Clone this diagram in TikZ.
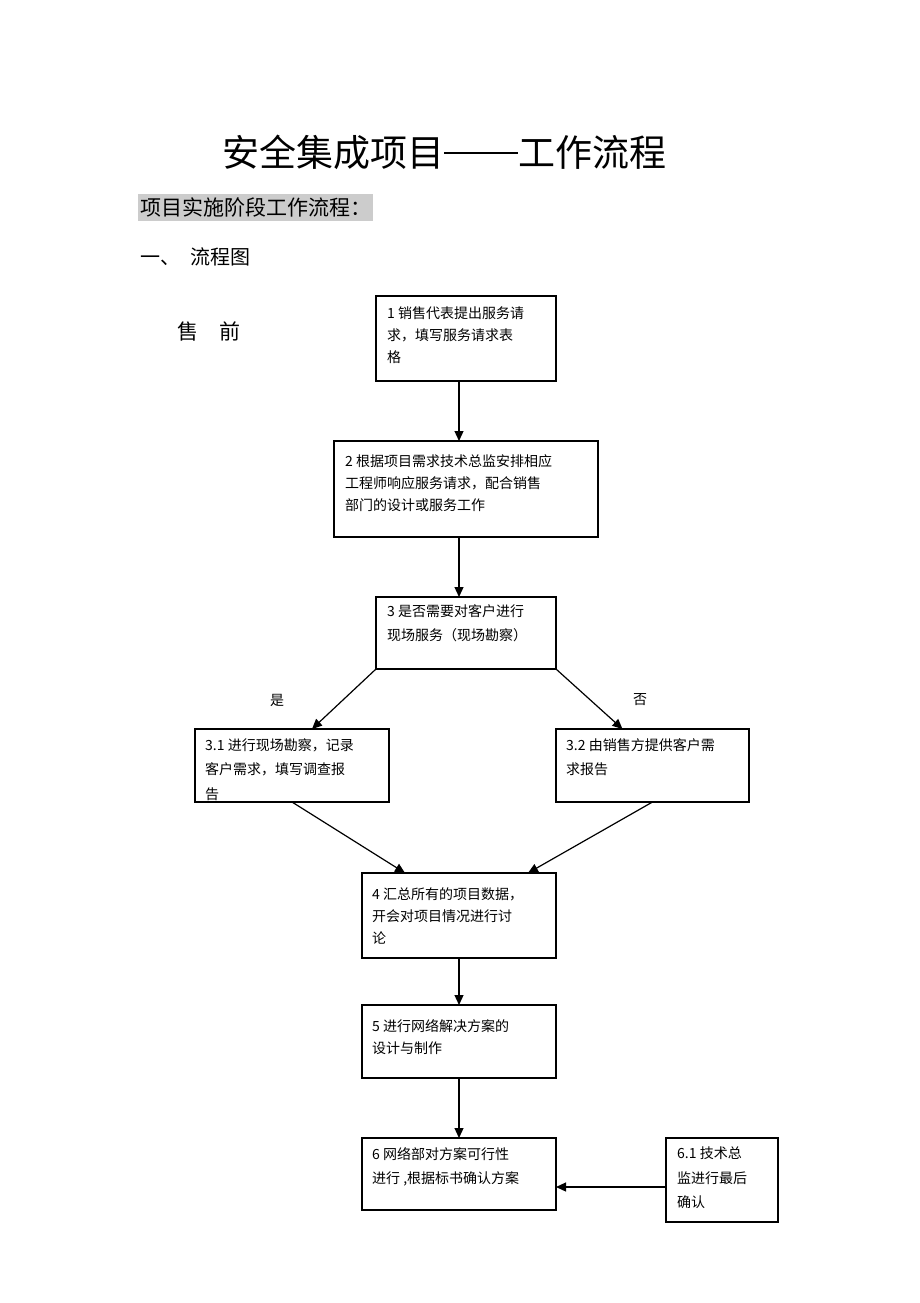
\documentclass[tikz,border=0pt]{standalone}
\usepackage{fontspec}
\setmainfont{Noto Sans CJK SC}
\usetikzlibrary{arrows.meta,positioning}

\begin{document}
\begin{tikzpicture}[x=1pt, y=-1pt, >={Triangle[length=10pt,width=9pt]},
    flowbox/.style={draw, line width=1.6pt, anchor=north west, inner sep=0pt, outer sep=0pt},
    flowtext/.style={anchor=north west, align=left, inner sep=0pt, font=\fontsize{14}{22}\selectfont},
    widetext/.style={flowtext, font=\fontsize{14}{24.5}\selectfont},
    flowarrow/.style={->, line width=1.2pt}]
    \useasboundingbox (0,0) rectangle (920,1303);

    % Headings
    \node[font=\fontsize{37}{37}\selectfont] (title) at (444,152) {安全集成项目\rule[0.33em]{2em}{1.8pt}工作流程};
    \node[fill=black!20, minimum height=25pt, inner xsep=2pt, anchor=west, font=\fontsize{21}{21}\selectfont] (stage) at (138,207.5) {项目实施阶段工作流程：};
    \node[anchor=west, inner sep=0pt, font=\fontsize{20}{20}\selectfont] (chart) at (140,257) {一、\hspace{10pt}流程图};
    \node[anchor=west, inner sep=0pt, font=\fontsize{21}{21}\selectfont] (presale) at (177,331) {售　前};

    % Boxes
    \node[flowbox, minimum width=180pt, minimum height=85pt] (b1) at (376,296) {};
    \node[flowbox, minimum width=264pt, minimum height=96pt] (b2) at (334,441) {};
    \node[flowbox, minimum width=180pt, minimum height=72pt] (b3) at (376,597) {};
    \node[flowbox, minimum width=194pt, minimum height=73pt] (b31) at (195,729) {};
    \node[flowbox, minimum width=193pt, minimum height=73pt] (b32) at (556,729) {};
    \node[flowbox, minimum width=194pt, minimum height=85pt] (b4) at (362,873) {};
    \node[flowbox, minimum width=194pt, minimum height=73pt] (b5) at (362,1005) {};
    \node[flowbox, minimum width=194pt, minimum height=72pt] (b6) at (362,1138) {};
    \node[flowbox, minimum width=112pt, minimum height=84pt] (b61) at (666,1138) {};

    % Box texts
    \node[flowtext] (t1) at ([xshift=11pt, yshift=-11pt]b1.north west) {1 销售代表提出服务请\\求，填写服务请求表\\格};
    \node[flowtext] (t2) at ([xshift=11pt, yshift=-13pt]b2.north west) {2 根据项目需求技术总监安排相应\\工程师响应服务请求，配合销售\\部门的设计或服务工作};
    \node[widetext] (t3) at ([xshift=11pt, yshift=-7pt]b3.north west) {3 是否需要对客户进行\\现场服务（现场勘察）};
    \node[widetext] (t31) at ([xshift=10pt, yshift=-9pt]b31.north west) {3.1 进行现场勘察，记录\\客户需求，填写调查报\\告};
    \node[widetext] (t32) at ([xshift=10pt, yshift=-9pt]b32.north west) {3.2 由销售方提供客户需\\求报告};
    \node[flowtext] (t4) at ([xshift=10pt, yshift=-14pt]b4.north west) {4 汇总所有的项目数据，\\开会对项目情况进行讨\\论};
    \node[flowtext] (t5) at ([xshift=10pt, yshift=-14pt]b5.north west) {5 进行网络解决方案的\\设计与制作};
    \node[widetext] (t6) at ([xshift=10pt, yshift=-9pt]b6.north west) {6 网络部对方案可行性\\进行 ,根据标书确认方案};
    \node[widetext] (t61) at ([xshift=11pt, yshift=-9pt]b61.north west) {6.1 技术总\\监进行最后\\确认};

    % Branch labels
    \node[font=\fontsize{14}{14}\selectfont] (yes) at (277,700) {是};
    \node[font=\fontsize{14}{14}\selectfont] (no) at (640,700) {否};

    % Connectors
    \coordinate (spine) at (459,0);
    \draw[flowarrow] (b1.south -| spine) -- (b2.north -| spine);
    \draw[flowarrow] (b2.south -| spine) -- (b3.north -| spine);
    \draw[flowarrow] (b3.south west) -- ([xshift=20pt]b31.north);
    \draw[flowarrow] (b3.south east) -- ([xshift=-30pt]b32.north);
    \draw[flowarrow] (b31.south) -- ([xshift=-54pt]b4.north);
    \draw[flowarrow] (b32.south) -- ([xshift=69pt]b4.north);
    \draw[flowarrow] (b4.south -| spine) -- (b5.north -| spine);
    \draw[flowarrow] (b5.south -| spine) -- (b6.north -| spine);
    \draw[flowarrow] ([yshift=-7pt]b61.west) -- ([yshift=-7pt]b61.west -| b6.east);
\end{tikzpicture}
\end{document}
